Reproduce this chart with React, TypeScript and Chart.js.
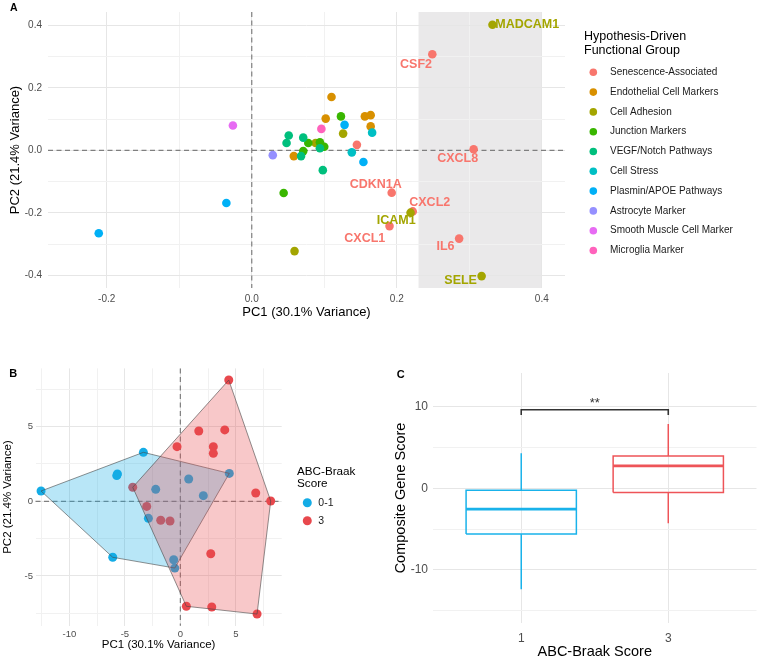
import React, { useEffect, useRef } from 'react';
import { Chart, registerables } from 'chart.js';
Chart.register(...registerables);

const FONT = '"Liberation Sans", Arial, Helvetica, sans-serif';
const TICK_COLOR = '#4D4D4D';
const GRID_MAJOR = '#E6E6E6';
const GRID_MINOR = '#F1F1F1';

// ---------------- Panel A data ----------------
const GROUPS = [
  'Senescence-Associated', 'Endothelial Cell Markers', 'Cell Adhesion', 'Junction Markers',
  'VEGF/Notch Pathways', 'Cell Stress', 'Plasmin/APOE Pathways', 'Astrocyte Marker',
  'Smooth Muscle Cell Marker', 'Microglia Marker',
];
const GROUP_COLORS = ['#F8766D', '#D89000', '#A3A500', '#39B600', '#00BF7D', '#00BFC4', '#00B0F6', '#9590FF', '#E76BF3', '#FF62BC'];

const GENE_NAMES = ['CSF2', 'CXCL8', 'CDKN1A', 'CXCL2', 'CXCL1', 'IL6', '', '', '', '', '', '', '', 'MADCAM1', 'ICAM1', 'SELE', '', '', '', '', '', '', '', '', '', '', '', '', '', '', '', '', '', '', '', '', '', '', '', ''];
const GENE_PC1 = [0.249, 0.306, 0.193, 0.222, 0.190, 0.286, 0.145, 0.110, 0.102, 0.156, 0.164, 0.164, 0.058, 0.332, 0.219, 0.317, 0.126, 0.088, 0.059, 0.123, 0.078, 0.094, 0.100, 0.071, 0.044, 0.051, 0.048, 0.071, 0.094, 0.068, 0.098, 0.166, 0.138, 0.128, 0.154, -0.211, -0.035, 0.029, -0.026, 0.096];
const GENE_PC2 = [0.308, 0.004, -0.135, -0.195, -0.242, -0.282, 0.018, 0.171, 0.102, 0.109, 0.113, 0.077, -0.018, 0.402, -0.199, -0.402, 0.054, 0.024, -0.322, 0.109, 0.024, 0.026, 0.012, -0.002, -0.136, 0.048, 0.024, 0.041, 0.007, -0.018, -0.063, 0.057, -0.006, 0.082, -0.037, -0.265, -0.168, -0.015, 0.080, 0.069];
const GENE_GROUP = [0, 0, 0, 0, 0, 0, 0, 1, 1, 1, 1, 1, 1, 2, 2, 2, 2, 2, 2, 3, 3, 3, 3, 3, 3, 4, 4, 4, 4, 4, 4, 5, 5, 6, 6, 6, 6, 7, 8, 9];

const A_X_MAJOR = [-0.2, 0, 0.2, 0.4];
const A_X_MINOR = [-0.1, 0.1, 0.3];
const A_Y_MAJOR = [-0.4, -0.2, 0, 0.2, 0.4];
const A_Y_MINOR = [-0.3, -0.1, 0.1, 0.3];
const A_X_RANGE = [-0.281, 0.432];
const A_Y_RANGE = [-0.44, 0.443];
const A_SHADE_PC1 = [0.23, 0.4];

// label nudges (pixels, label centre relative to point)
const A_LABEL_NUDGE: Record<string, number[]> = {
  MADCAM1: [34.7, -0.3], CSF2: [-16.3, 10], CXCL8: [-16, 9.3], CDKN1A: [-16, -8.3],
  CXCL2: [17, -8.5], ICAM1: [-14.3, 8], CXCL1: [-24.7, 12], IL6: [-13.6, 8.3], SELE: [-21, 4.3],
};

// ---------------- Panel B data ----------------
const B_GROUPS = ['0-1', '3'];
const B_COLORS = ['#14ACE6', '#E8484D'];
const B_FILLS = ['rgba(20,172,230,0.3)', 'rgba(232,72,77,0.3)'];
const B_LOW_PC1 = [-12.55, -3.33, -5.67, -5.73, -2.22, -2.88, 0.75, 2.07, 4.41, -6.09, -0.6, -0.5];
const B_LOW_PC2 = [0.69, 3.28, 1.83, 1.72, 0.80, -1.14, 1.49, 0.38, 1.87, -3.75, -3.91, -4.47];
const B_HIGH_PC1 = [4.36, 1.66, 4.0, -0.30, 2.97, 2.97, -4.29, -3.03, -1.77, -0.93, 6.79, 8.14, 2.74, 0.54, 2.83, 6.91];
const B_HIGH_PC2 = [8.12, 4.71, 4.78, 3.66, 3.66, 3.21, 0.94, -0.34, -1.27, -1.32, 0.56, 0.02, -3.51, -7.03, -7.08, -7.55];
const B_X_MAJOR = [-10, -5, 0, 5];
const B_X_MINOR = [-12.5, -7.5, -2.5, 2.5, 7.5];
const B_Y_MAJOR = [-5, 0, 5];
const B_Y_MINOR = [-7.5, -2.5, 2.5, 7.5];
const B_X_RANGE = [-13.05, 9.13];
const B_Y_RANGE = [-8.33, 8.9];

// ---------------- Panel C data ----------------
const C_CATEGORIES = ['1', '3'];
const C_COLORS = ['#19B2EA', '#EE5458'];
const C_MIN = [-12.36, -4.28];
const C_Q1 = [-5.6, -0.53];
const C_MEDIAN = [-2.57, 2.73];
const C_Q3 = [-0.25, 3.95];
const C_MAX = [4.28, 7.87];
const C_BOX_HALF = 0.375;
const C_BRACKET = [8.97, 9.6];
const C_SIG = '**';
const C_Y_MAJOR = [-10, 0, 10];
const C_Y_MINOR = [-15, -5, 5];
const C_X_RANGE = [0.4, 2.6];
const C_Y_RANGE = [-16.5, 14.1];

// ---------------- helpers ----------------
const isIn = (v: number, arr: number[]) => arr.some((a) => Math.abs(a - v) < 1e-9);

function linAxis(o: any) {
  const all = [...o.majors, ...o.minors].sort((a: number, b: number) => a - b);
  return {
    type: 'linear',
    min: o.range[0],
    max: o.range[1],
    afterBuildTicks: (s: any) => { s.ticks = all.map((v: number) => ({ value: v })); },
    afterFit: (s: any) => { if (o.horizontal) s.height = o.size; else s.width = o.size; },
    border: { display: false },
    grid: {
      drawTicks: false,
      lineWidth: 1,
      color: (c: any) => (c.tick && isIn(c.tick.value, o.majors) ? GRID_MAJOR : GRID_MINOR),
    },
    ticks: {
      autoSkip: false,
      maxRotation: 0,
      padding: o.tickPad,
      color: TICK_COLOR,
      font: { family: FONT, size: o.tickSize },
      callback: (v: any) => (isIn(v, o.majors) ? o.fmt(v) : ''),
    },
    title: {
      display: true,
      text: o.title,
      color: '#000',
      font: { family: FONT, size: o.titleSize, lineHeight: 1 },
      padding: o.titlePad,
    },
  };
}

function convexHull(xs: number[], ys: number[]) {
  const pts = xs.map((x, i) => ({ x, y: ys[i] })).sort((a, b) => a.x - b.x || a.y - b.y);
  const cross = (o: any, a: any, b: any) => (a.x - o.x) * (b.y - o.y) - (a.y - o.y) * (b.x - o.x);
  const lower: any[] = [];
  for (const p of pts) {
    while (lower.length >= 2 && cross(lower[lower.length - 2], lower[lower.length - 1], p) <= 0) lower.pop();
    lower.push(p);
  }
  const upper: any[] = [];
  for (const p of [...pts].reverse()) {
    while (upper.length >= 2 && cross(upper[upper.length - 2], upper[upper.length - 1], p) <= 0) upper.pop();
    upper.push(p);
  }
  upper.pop();
  lower.pop();
  const hull = lower.concat(upper);
  hull.push(hull[0]);
  return hull;
}

const zeroLines = {
  id: 'zeroLines',
  beforeDatasetsDraw(chart: any) {
    const { ctx, chartArea: a, scales } = chart;
    const px = scales.x.getPixelForValue(0);
    const py = scales.y.getPixelForValue(0);
    ctx.save();
    ctx.strokeStyle = '#7F7F7F';
    ctx.lineWidth = 1.2;
    ctx.setLineDash([5, 3.5]);
    ctx.beginPath();
    ctx.moveTo(a.left, py); ctx.lineTo(a.right, py);
    ctx.moveTo(px, a.top); ctx.lineTo(px, a.bottom);
    ctx.stroke();
    ctx.restore();
  },
};

function letter(ctx: any, t: string, x: number, y: number, size: number) {
  ctx.save();
  ctx.font = `bold ${size}px ${FONT}`;
  ctx.fillStyle = '#000';
  ctx.textAlign = 'left';
  ctx.textBaseline = 'alphabetic';
  ctx.fillText(t, x, y);
  ctx.restore();
}

const baseOpts = {
  responsive: false,
  animation: false as const,
  events: [] as any[],
  devicePixelRatio: 1,
};

// ---------------- Panel A ----------------
function makeA(canvas: HTMLCanvasElement) {
  const datasets = GROUPS.map((g, gi) => ({
    label: g,
    order: GROUPS.length - gi,
    data: GENE_PC1.map((x, i) => ({ x, y: GENE_PC2[i], g: GENE_GROUP[i] })).filter((p) => p.g === gi),
    backgroundColor: GROUP_COLORS[gi],
    borderWidth: 0,
    pointRadius: 4.3,
  }));
  const shade = {
    id: 'shade',
    beforeDraw(chart: any) {
      const { ctx, chartArea: a, scales } = chart;
      const x0 = scales.x.getPixelForValue(A_SHADE_PC1[0]);
      const x1 = scales.x.getPixelForValue(A_SHADE_PC1[1]);
      ctx.save();
      ctx.fillStyle = '#EAE9EA';
      ctx.fillRect(x0, a.top, x1 - x0, a.bottom - a.top);
      ctx.restore();
    },
  };
  const labels = {
    id: 'labels',
    afterDatasetsDraw(chart: any) {
      const { ctx, scales } = chart;
      ctx.save();
      ctx.font = `bold 12.5px ${FONT}`;
      ctx.textAlign = 'center';
      ctx.textBaseline = 'middle';
      GENE_NAMES.forEach((n, i) => {
        if (!n) return;
        const nud = A_LABEL_NUDGE[n] || [0, 0];
        ctx.fillStyle = GROUP_COLORS[GENE_GROUP[i]];
        ctx.fillText(n, scales.x.getPixelForValue(GENE_PC1[i]) + nud[0], scales.y.getPixelForValue(GENE_PC2[i]) + nud[1]);
      });
      ctx.restore();
    },
    afterDraw(chart: any) {
      const { ctx } = chart;
      letter(ctx, 'A', 10, 10.7, 10.5);
      ctx.save();
      ctx.fillStyle = '#000';
      ctx.textAlign = 'left';
      ctx.textBaseline = 'middle';
      ctx.font = `12.5px ${FONT}`;
      ctx.fillText('Hypothesis-Driven', 584, 36.7);
      ctx.fillText('Functional Group', 584, 50.7);
      ctx.font = `10px ${FONT}`;
      GROUPS.forEach((g, i) => {
        const y = 72.3 + 19.8 * i;
        ctx.fillStyle = GROUP_COLORS[i];
        ctx.beginPath();
        ctx.arc(593.3, y, 3.8, 0, Math.PI * 2);
        ctx.fill();
        ctx.fillStyle = '#1A1A1A';
        ctx.fillText(g, 610, y);
      });
      ctx.restore();
    },
  };
  return new Chart(canvas, {
    type: 'scatter',
    data: { datasets } as any,
    options: {
      ...baseOpts,
      layout: { padding: { top: 1, right: 193, left: 0, bottom: 0 } },
      plugins: { legend: { display: false }, tooltip: { enabled: false } },
      scales: {
        x: linAxis({ range: A_X_RANGE, majors: A_X_MAJOR, minors: A_X_MINOR, fmt: (v: number) => v.toFixed(1), size: 34, horizontal: true, tickSize: 10, tickPad: 5, title: 'PC1 (30.1% Variance)', titleSize: 13, titlePad: { top: 0, bottom: 3.3 } }),
        y: linAxis({ range: A_Y_RANGE, majors: A_Y_MAJOR, minors: A_Y_MINOR, fmt: (v: number) => v.toFixed(1), size: 48, horizontal: false, tickSize: 10, tickPad: 6, title: 'PC2 (21.4% Variance)', titleSize: 13, titlePad: { top: 9, bottom: 0 } }),
      },
    } as any,
    plugins: [shade, zeroLines, labels],
  });
}

// ---------------- Panel B ----------------
function makeB(canvas: HTMLCanvasElement) {
  const xs = [B_LOW_PC1, B_HIGH_PC1];
  const ys = [B_LOW_PC2, B_HIGH_PC2];
  const pointSets = B_GROUPS.map((g, gi) => ({
    label: g,
    order: 5 - gi,
    data: xs[gi].map((x, i) => ({ x, y: ys[gi][i] })),
    backgroundColor: B_COLORS[gi],
    borderWidth: 0,
    pointRadius: 4.5,
  }));
  const hullSets = B_GROUPS.map((g, gi) => ({
    label: g + ' hull',
    order: 2 - gi,
    data: convexHull(xs[gi], ys[gi]),
    showLine: true,
    fill: 'shape',
    tension: 0,
    backgroundColor: B_FILLS[gi],
    borderColor: 'rgba(70,70,70,0.75)',
    borderWidth: 0.8,
    pointRadius: 0,
  }));
  const deco = {
    id: 'decoB',
    afterDraw(chart: any) {
      const { ctx } = chart;
      letter(ctx, 'B', 9.3, 47, 11);
      ctx.save();
      ctx.fillStyle = '#000';
      ctx.textAlign = 'left';
      ctx.textBaseline = 'middle';
      ctx.font = `11.7px ${FONT}`;
      ctx.fillText('ABC-Braak', 297, 142);
      ctx.fillText('Score', 297, 153.7);
      ctx.font = `10.5px ${FONT}`;
      B_GROUPS.forEach((g, i) => {
        const y = 172.7 + 18 * i;
        ctx.fillStyle = B_COLORS[i];
        ctx.beginPath();
        ctx.arc(307.3, y, 4.5, 0, Math.PI * 2);
        ctx.fill();
        ctx.fillStyle = '#1A1A1A';
        ctx.fillText(g, 318.3, y);
      });
      ctx.restore();
    },
  };
  return new Chart(canvas, {
    type: 'scatter',
    data: { datasets: [...pointSets, ...hullSets] } as any,
    options: {
      ...baseOpts,
      layout: { padding: { top: 38.4, right: 97.3, left: 0, bottom: 0 } },
      plugins: { legend: { display: false }, tooltip: { enabled: false } },
      scales: {
        x: linAxis({ range: B_X_RANGE, majors: B_X_MAJOR, minors: B_X_MINOR, fmt: (v: number) => String(v), size: 34.3, horizontal: true, tickSize: 9.5, tickPad: 3, title: 'PC1 (30.1% Variance)', titleSize: 11.5, titlePad: { top: 0, bottom: 9.6 } }),
        y: linAxis({ range: B_Y_RANGE, majors: B_Y_MAJOR, minors: B_Y_MINOR, fmt: (v: number) => String(v), size: 35.5, horizontal: false, tickSize: 9.5, tickPad: 2.5, title: 'PC2 (21.4% Variance)', titleSize: 11.5, titlePad: { top: 2.3, bottom: 0 } }),
      },
    } as any,
    plugins: [zeroLines, deco],
  });
}

// ---------------- Panel C ----------------
function makeC(canvas: HTMLCanvasElement) {
  const datasets: any[] = [];
  const line = (data: any[], color: string, width: number) => ({
    data, showLine: true, fill: false, tension: 0, borderColor: color, borderWidth: width, pointRadius: 0,
  });
  C_CATEGORIES.forEach((c, i) => {
    const x = i + 1;
    const col = C_COLORS[i];
    datasets.push(line([{ x, y: C_Q3[i] }, { x, y: C_MAX[i] }], col, 1.5));
    datasets.push(line([{ x, y: C_Q1[i] }, { x, y: C_MIN[i] }], col, 1.5));
    datasets.push(line([
      { x: x - C_BOX_HALF, y: C_Q1[i] }, { x: x + C_BOX_HALF, y: C_Q1[i] },
      { x: x + C_BOX_HALF, y: C_Q3[i] }, { x: x - C_BOX_HALF, y: C_Q3[i] },
      { x: x - C_BOX_HALF, y: C_Q1[i] },
    ], col, 1.5));
    datasets.push(line([{ x: x - C_BOX_HALF, y: C_MEDIAN[i] }, { x: x + C_BOX_HALF, y: C_MEDIAN[i] }], col, 2.8));
  });
  datasets.push(line([
    { x: 1, y: C_BRACKET[0] }, { x: 1, y: C_BRACKET[1] }, { x: 2, y: C_BRACKET[1] }, { x: 2, y: C_BRACKET[0] },
  ], '#333333', 1.6));
  const deco = {
    id: 'decoC',
    afterDraw(chart: any) {
      const { ctx, scales } = chart;
      letter(ctx, 'C', 17.7, 47.7, 11);
      ctx.save();
      ctx.fillStyle = '#333';
      ctx.font = `13px ${FONT}`;
      ctx.textAlign = 'center';
      ctx.textBaseline = 'alphabetic';
      ctx.fillText(C_SIG, scales.x.getPixelForValue(1.5), scales.y.getPixelForValue(C_BRACKET[1]) - 3);
      ctx.restore();
    },
  };
  return new Chart(canvas, {
    type: 'scatter',
    data: { datasets },
    options: {
      ...baseOpts,
      layout: { padding: { top: 43, right: 1.5, left: 0, bottom: 0 } },
      plugins: { legend: { display: false }, tooltip: { enabled: false } },
      scales: {
        x: linAxis({ range: C_X_RANGE, majors: [1, 2], minors: [], fmt: (v: number) => C_CATEGORIES[Math.round(v) - 1], size: 37, horizontal: true, tickSize: 12, tickPad: 8, title: 'ABC-Braak Score', titleSize: 14.5, titlePad: { top: 0, bottom: 0.3 } }),
        y: linAxis({ range: C_Y_RANGE, majors: C_Y_MAJOR, minors: C_Y_MINOR, fmt: (v: number) => String(v), size: 54, horizontal: false, tickSize: 12, tickPad: 5, title: 'Composite Gene Score', titleSize: 14.5, titlePad: { top: 14.6, bottom: 0 } }),
      },
    } as any,
    plugins: [deco],
  });
}

export default function App() {
  const refA = useRef<HTMLCanvasElement>(null);
  const refB = useRef<HTMLCanvasElement>(null);
  const refC = useRef<HTMLCanvasElement>(null);
  useEffect(() => {
    const charts = [makeA(refA.current!), makeB(refB.current!), makeC(refC.current!)];
    return () => charts.forEach((c) => c.destroy());
  }, []);
  return (
    <div style={{ position: 'absolute', left: 0, top: 0, width: 758, height: 660, background: '#fff', overflow: 'hidden' }}>
      <canvas ref={refA} width={758} height={322} style={{ position: 'absolute', left: 0, top: 0 }} />
      <canvas ref={refB} width={379} height={330} style={{ position: 'absolute', left: 0, top: 330 }} />
      <canvas ref={refC} width={379} height={330} style={{ position: 'absolute', left: 379, top: 330 }} />
    </div>
  );
}
